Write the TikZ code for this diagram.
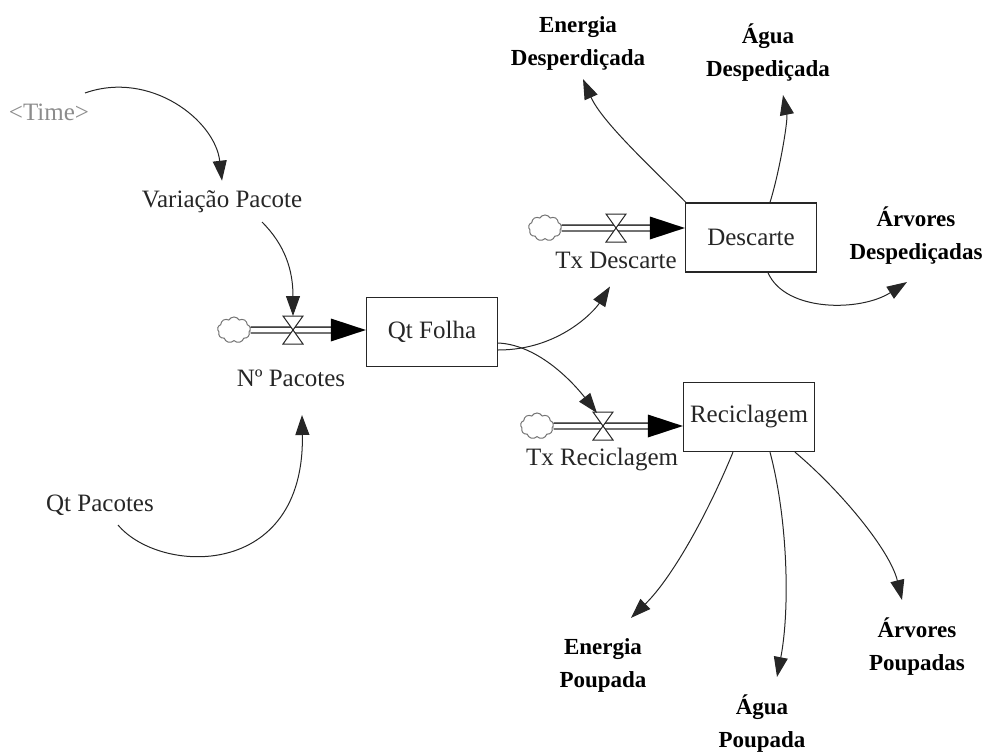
\documentclass[tikz,border=0pt]{standalone}
\usepackage{fontspec}
\setmainfont{Liberation Serif}
\usetikzlibrary{arrows.meta,shapes.symbols,calc}
\tikzset{
  stock/.style={draw=black!85, line width=1.3pt, fill=white, minimum width=131pt, minimum height=69pt, inner sep=0pt, font=\fontsize{25}{27}\selectfont, text=black!85},
  lbl/.style={font=\fontsize{25}{27}\selectfont, text=black!85, inner sep=0pt},
  blbl/.style={font=\fontsize{23}{33}\selectfont\bfseries, text=black, align=center, inner sep=0pt},
  cloudy/.style={cloud, cloud puffs=9, cloud puff arc=120, aspect=1.3, draw=black!55, fill=white, line width=1pt, minimum width=33pt, minimum height=26pt, inner sep=0pt},
  link/.style={draw=black!85, line width=1pt, -{Triangle[length=20pt,width=14pt]}},
  pipe/.style={draw=black!85, line width=1.4pt, double=white, double distance=4.5pt},
}
\newcommand{\myvalve}[1]{%
  \draw[black!85, line width=1pt, fill=white] ($(#1)+(-10,-14)$) -- ($(#1)+(10,-14)$) -- ($(#1)+(-10,14)$) -- ($(#1)+(10,14)$) -- cycle;}
\newcommand{\myhead}[1]{%
  \fill[black] (#1) -- ++(-35,-11.5) -- ++(0,23) -- cycle;}
\begin{document}
\begin{tikzpicture}[x=1pt,y=-1pt]
\useasboundingbox (0,0) rectangle (995,754);
% stocks
\node[stock] (qt) at (432,332) {Qt Folha};
\node[stock] (desc) at (751,237.5) {Descarte};
\node[stock] (rec) at (749,417) {Reciclagem};
% clouds
\node[cloudy] (c1) at (234,330) {};
\node[cloudy] (c2) at (545,228) {};
\node[cloudy] (c3) at (537,426) {};
% valves
\coordinate (v1) at (293,330);
\coordinate (v2) at (616,228);
\coordinate (v3) at (603,426);
% pipes
\coordinate (h1) at ($(qt.west|-c1)+(-34,0)$);
\coordinate (h2) at ($(desc.west|-c2)+(-34,0)$);
\coordinate (h3) at ($(rec.west|-c3)+(-34,0)$);
\draw[pipe] (c1.east) -- (h1);
\draw[pipe] (c2.east) -- (h2);
\draw[pipe] (c3.east) -- (h3);
\myhead{qt.west|-c1}
\myhead{desc.west|-c2}
\myhead{rec.west|-c3}
\myvalve{v1}
\myvalve{v2}
\myvalve{v3}
% labels
\node[lbl, text=black!45] (time) at (49,112) {<Time>};
\node[lbl] (var) at (222,202) {Variação Pacote};
\node[lbl] (nump) at (291,378) {Nº Pacotes};
\node[lbl] (qtp) at (100,505) {Qt Pacotes};
\node[lbl] (txd) at (616,260) {Tx Descarte};
\node[lbl] (txr) at (602,460) {Tx Reciclagem};
% bold outputs
\node[blbl] (ed) at (578,43) {Energia\\Desperdiçada};
\node[blbl] (ad) at (768,53) {Água\\Despediçada};
\node[blbl] (arvd) at (916,236) {Árvores\\Despediçadas};
\node[blbl] (ep) at (603,665) {Energia\\Poupada};
\node[blbl] (ap) at (762,724) {Água\\Poupada};
\node[blbl] (arvp) at (917,647) {Árvores\\Poupadas};
% connector endpoints
\coordinate (tA) at (85,93);
\coordinate (vA) at (262,222);
\coordinate (qA) at (118,525);
\coordinate (nT) at (302,415);
\coordinate (qo1) at ($(qt.east)+(0,18)$);
\coordinate (qo2) at ($(qt.east)+(0,11)$);
\coordinate (dTL) at ($(desc.north west)+(1,0)$);
\coordinate (dT) at ($(desc.north)+(19,0)$);
\coordinate (dB) at ($(desc.south)+(17,0)$);
\coordinate (rB1) at ($(rec.south)+(-16,0)$);
\coordinate (rB2) at ($(rec.south)+(21,0)$);
\coordinate (rB3) at ($(rec.south)+(46,0)$);
% connectors
\draw[link] (tA) .. controls (150,70) and (215,120) .. ($(var.north)+(0,-10)$);
\draw[link] (vA) .. controls (285,245) and (293,270) .. ($(v1)+(0,-14)$);
\draw[link] (qA) .. controls (160,575) and (305,580) .. (nT);
\draw[link] (qo1) .. controls (560,350) and (595,310) .. ($(txd.south)+(-6,18)$);
\draw[link] (qo2) .. controls (540,345) and (575,385) .. ($(v3)+(-6,-13)$);
\draw[link] (dTL) .. controls (652,168) and (602,122) .. ($(ed.south)+(5,9)$);
\draw[link] (dT) .. controls (780,170) and (788,120) .. ($(ad.south)+(15,13)$);
\draw[link] (dB) .. controls (785,312) and (860,312) .. ($(arvd.south)+(-9,17)$);
\draw[link] (rB1) .. controls (705,520) and (670,580) .. ($(ep.north)+(28,-20)$);
\draw[link] (rB2) .. controls (788,520) and (790,610) .. ($(ap.north)+(15,-18)$);
\draw[link] (rB3) .. controls (840,490) and (890,550) .. ($(arvp.north)+(-15,-18)$);
\end{tikzpicture}
\end{document}
